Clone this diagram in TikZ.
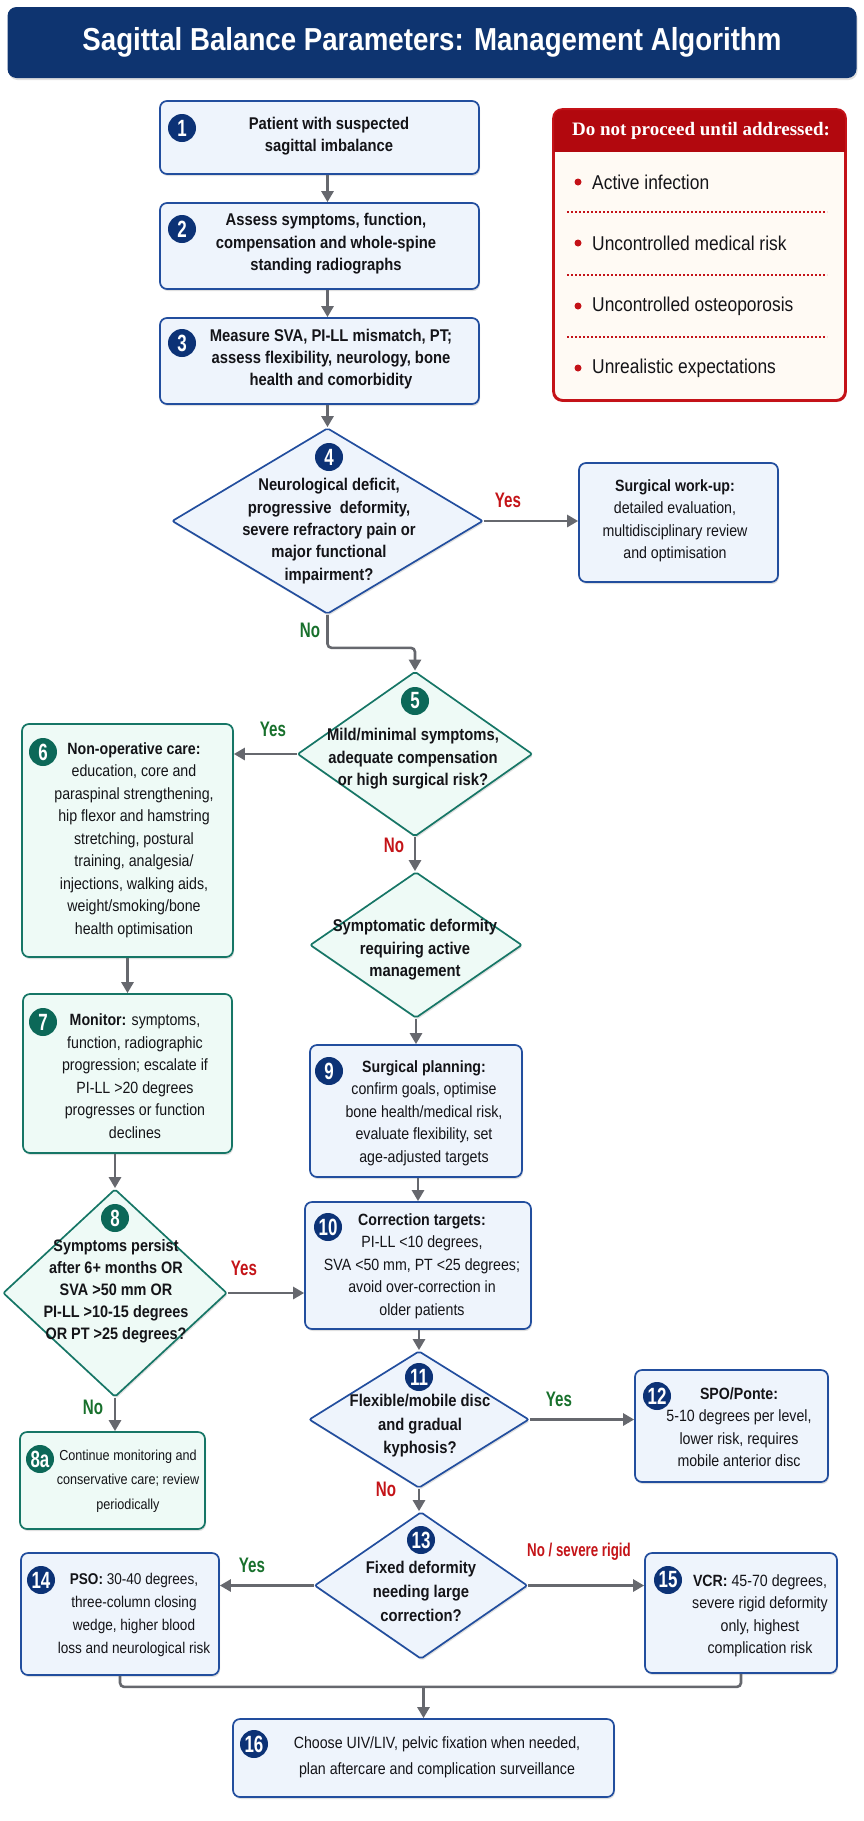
\documentclass[tikz,border=0pt]{standalone}
\usepackage{fontspec}
\setmainfont{Liberation Sans}[FakeStretch=0.87]
\newfontfamily\NarrowFont{Liberation Sans}[FakeStretch=0.72]
\newfontfamily\HeadSerif{Liberation Serif}
\usetikzlibrary{arrows.meta}
\usetikzlibrary{shapes.geometric}
\usetikzlibrary{shadows}

\definecolor{TitleNavy}{RGB}{14,52,112}
\definecolor{BadgeNavy}{RGB}{12,50,118}
\definecolor{BoxBlue}{RGB}{34,78,158}
\definecolor{FillBlue}{RGB}{238,244,252}
\definecolor{BoxGreen}{RGB}{22,118,102}
\definecolor{BadgeGreen}{RGB}{12,104,88}
\definecolor{FillGreen}{RGB}{238,250,246}
\definecolor{ArrowGray}{RGB}{102,104,110}
\definecolor{AlertRed}{RGB}{196,18,24}
\definecolor{HeadRed}{RGB}{178,8,14}
\definecolor{FillCream}{RGB}{255,250,244}
\definecolor{LabelRed}{RGB}{196,20,24}
\definecolor{LabelGreen}{RGB}{24,112,44}
\definecolor{Ink}{RGB}{20,20,24}

\newcommand{\BodySize}{\fontsize{16.3}{22.5}\selectfont}
\newcommand{\BoldSize}{\bfseries\fontsize{17}{22.4}\selectfont}
\newcommand{\SmallSize}{\fontsize{14.5}{24.7}\selectfont}
\newcommand{\BadgeSize}{\NarrowFont\bfseries\fontsize{23.5}{23.5}\selectfont}
\newcommand{\LabelSize}{\NarrowFont\bfseries\fontsize{21}{21}\selectfont}

\begin{document}
\begin{tikzpicture}[x=1pt, y=-1pt,
    SoftShadow/.style={drop shadow={shadow xshift=1pt, shadow yshift=-2pt, opacity=0.12, fill=black}},
    StepBox/.style={rounded corners=7pt, line width=1.7pt, inner sep=0pt, SoftShadow},
    BlueBox/.style={StepBox, draw=BoxBlue, fill=FillBlue},
    GreenBox/.style={StepBox, draw=BoxGreen, fill=FillGreen},
    BlueDia/.style={diamond, draw=BoxBlue, fill=FillBlue, line width=1.7pt, inner sep=0pt, rounded corners=2pt, SoftShadow},
    GreenDia/.style={diamond, draw=BoxGreen, fill=FillGreen, line width=1.7pt, inner sep=0pt, rounded corners=2pt, SoftShadow},
    BoxText/.style={align=center, inner sep=0pt, text=Ink, font=\BodySize},
    Badge/.style={circle, fill=BadgeNavy, text=white, minimum size=28pt, inner sep=0pt, font=\BadgeSize},
    GreenBadge/.style={Badge, fill=BadgeGreen},
    Flow/.style={draw=ArrowGray, line width=2.6pt, -{Triangle[length=11pt,width=12pt]}},
    Joiner/.style={draw=ArrowGray, line width=2.6pt, rounded corners=4pt},
    YesRed/.style={text=LabelRed, font=\LabelSize, inner sep=0pt},
    YesGreen/.style={text=LabelGreen, font=\LabelSize, inner sep=0pt},
    ]

\useasboundingbox (0,0) rectangle (864,1821);

% Title bar
\node [rounded corners=9pt, fill=TitleNavy, minimum width=849pt, minimum height=71pt, inner sep=0pt, SoftShadow,
    text=white, font=\bfseries\fontsize{31.8}{31.8}\selectfont] (title) at (432,42.5)
    {Sagittal Balance Parameters: Management Algorithm};

% Warning panel
\node [rounded corners=9pt, draw=AlertRed, fill=FillCream, line width=1.8pt, SoftShadow,
    minimum width=291pt, minimum height=290pt, inner sep=0pt] (RB) at (699.5,255) {};
\coordinate (RBhead) at (0,152);
\begin{scope}
    \clip [rounded corners=9pt] (RB.north west) rectangle (RB.south east);
    \fill [HeadRed] (RB.north west) rectangle (RB.east |- RBhead);
\end{scope}
\draw [AlertRed, line width=1.8pt, rounded corners=9pt] (RB.north west) rectangle (RB.south east);
\node [text=white, inner sep=0pt, font=\HeadSerif\bfseries\fontsize{19}{19}\selectfont] (RBtitle) at (701,131)
    {Do not proceed until addressed:};
\fill [AlertRed] (578,182) circle (3.5pt);
\fill [AlertRed] (578,243) circle (3.5pt);
\fill [AlertRed] (578,306) circle (3.5pt);
\fill [AlertRed] (578,368) circle (3.5pt);
\node [BoxText, anchor=west, font=\fontsize{20}{20}\selectfont] (RB1) at (592,182) {Active infection};
\node [BoxText, anchor=west, font=\fontsize{20}{20}\selectfont] (RB2) at (592,243) {Uncontrolled medical risk};
\node [BoxText, anchor=west, font=\fontsize{20}{20}\selectfont] (RB3) at (592,306) {Uncontrolled osteoporosis};
\node [BoxText, anchor=west, font=\fontsize{20}{20}\selectfont] (RB4) at (592,368) {Unrealistic expectations};
\draw [AlertRed, line width=1.3pt, dash pattern=on 1.6pt off 2.4pt] (567,212) -- (827,212);
\draw [AlertRed, line width=1.3pt, dash pattern=on 1.6pt off 2.4pt] (567,275) -- (827,275);
\draw [AlertRed, line width=1.3pt, dash pattern=on 1.6pt off 2.4pt] (567,337) -- (827,337);

% Shapes
\node [BlueBox, minimum width=319pt, minimum height=73pt] (B1) at (319.5,137.5) {};
\node [BlueBox, minimum width=319pt, minimum height=86pt] (B2) at (319.5,246) {};
\node [BlueBox, minimum width=319pt, minimum height=86pt] (B3) at (319.5,361) {};
\node [BlueDia, minimum width=311pt, minimum height=186pt] (D4) at (327.5,521) {};
\node [BlueBox, minimum width=199pt, minimum height=119pt] (W) at (678.5,522.5) {};
\node [GreenDia, minimum width=235pt, minimum height=165pt] (D5) at (415,754) {};
\node [GreenBox, minimum width=211pt, minimum height=233pt] (B6) at (127.5,840.5) {};
\node [GreenDia, minimum width=212pt, minimum height=146pt] (DS) at (416,945) {};
\node [GreenBox, minimum width=209pt, minimum height=159pt] (B7) at (127.5,1073.5) {};
\node [BlueBox, minimum width=212pt, minimum height=132pt] (B9) at (416,1111) {};
\node [BlueBox, minimum width=226pt, minimum height=127pt] (B10) at (418,1265.5) {};
\node [GreenDia, minimum width=224pt, minimum height=208pt] (D8) at (115,1293) {};
\node [GreenBox, minimum width=185pt, minimum height=97pt] (B8a) at (112.5,1480.5) {};
\node [BlueDia, minimum width=220pt, minimum height=137pt] (D11) at (419,1419.5) {};
\node [BlueBox, minimum width=193pt, minimum height=112pt] (B12) at (731.5,1426) {};
\node [BlueDia, minimum width=213pt, minimum height=147pt] (D13) at (421,1585.5) {};
\node [BlueBox, minimum width=198pt, minimum height=122pt] (B14) at (120,1614) {};
\node [BlueBox, minimum width=192pt, minimum height=120pt] (B15) at (741,1613) {};
\node [BlueBox, minimum width=381pt, minimum height=78pt] (B16) at (423.5,1758) {};

% Texts
\node [BoxText, font=\BoldSize] (T1) at (329,136) {Patient with suspected\\sagittal imbalance};
\node [BoxText, font=\BoldSize] (T2) at (326,244) {Assess symptoms, function,\\compensation and whole-spine\\standing radiographs};
\node [BoxText, font=\BoldSize] (T3) at (331,359) {Measure SVA, PI-LL mismatch, PT;\\assess flexibility, neurology, bone\\health and comorbidity};
\node [BoxText, font=\BoldSize] (T4) at (329,531) {Neurological deficit,\\progressive~ deformity,\\severe refractory pain or\\major functional\\impairment?};
\node [BoxText] (TW) at (675,521) {\textbf{Surgical work-up:}\\detailed evaluation,\\multidisciplinary review\\and optimisation};
\node [BoxText, font=\BoldSize] (T5) at (413,759) {Mild/minimal symptoms,\\adequate compensation\\or high surgical risk?};
\node [BoxText] (T6) at (134,840) {\textbf{Non-operative care:}\\education, core and\\paraspinal strengthening,\\hip flexor and hamstring\\stretching, postural\\training, analgesia/\\injections, walking aids,\\weight/smoking/bone\\health optimisation};
\node [BoxText, font=\BoldSize] (TS) at (415,950) {Symptomatic deformity\\requiring active\\management};
\node [BoxText] (T7) at (135,1076) {\textbf{Monitor:} symptoms,\\function, radiographic\\progression; escalate if\\PI-LL >20 degrees\\progresses or function\\declines};
\node [BoxText] (T9) at (424,1113) {\textbf{Surgical planning:}\\confirm goals, optimise\\bone health/medical risk,\\evaluate flexibility, set\\age-adjusted targets};
\node [BoxText] (T10) at (422,1266) {\textbf{Correction targets:}\\PI-LL <10 degrees,\\SVA <50 mm, PT <25 degrees;\\avoid over-correction in\\older patients};
\node [BoxText, font=\bfseries\fontsize{16.6}{21.9}\selectfont] (T8) at (116,1291) {Symptoms persist\\after 6+ months OR\\SVA >50 mm OR\\PI-LL >10-15 degrees\\OR PT >25 degrees?};
\node [BoxText, font=\SmallSize] (T8a) at (128,1481) {Continue monitoring and\\conservative care; review\\periodically};
\node [BoxText, font=\bfseries\fontsize{17}{23.5}\selectfont] (T11) at (420,1426) {Flexible/mobile disc\\and gradual\\kyphosis?};
\node [BoxText] (T12) at (739,1427) {\textbf{SPO/Ponte:}\\5-10 degrees per level,\\lower risk, requires\\mobile anterior disc};
\node [BoxText, font=\bfseries\fontsize{17}{24}\selectfont] (T13) at (421,1591) {Fixed deformity\\needing large\\correction?};
\node [BoxText, font=\fontsize{15.6}{23}\selectfont] (T14) at (134,1615) {\textbf{PSO:} 30-40 degrees,\\three-column closing\\wedge, higher blood\\loss and neurological risk};
\node [BoxText] (T15) at (760,1616) {\textbf{VCR:} 45-70 degrees,\\severe rigid deformity\\only, highest\\complication risk};
\node [BoxText, font=\fontsize{16.3}{26}\selectfont] (T16) at (437,1757) {Choose UIV/LIV, pelvic fixation when needed,\\plan aftercare and complication surveillance};

% Number badges
\node [Badge] (N1) at (182,128) {1};
\node [Badge] (N2) at (182,229) {2};
\node [Badge] (N3) at (182,343) {3};
\node [Badge] (N4) at (329,457) {4};
\node [GreenBadge] (N5) at (415,701) {5};
\node [GreenBadge] (N6) at (43,752) {6};
\node [GreenBadge] (N7) at (43,1022) {7};
\node [GreenBadge] (N8) at (115,1218) {8};
\node [GreenBadge] (N8a) at (40,1459) {8a};
\node [Badge] (N9) at (329,1071) {9};
\node [Badge] (N10) at (328,1227) {10};
\node [Badge] (N11) at (419,1377) {11};
\node [Badge] (N12) at (657,1396) {12};
\node [Badge] (N13) at (421,1540) {13};
\node [Badge] (N14) at (41,1580) {14};
\node [Badge] (N15) at (668,1580) {15};
\node [Badge] (N16) at (254,1744) {16};

% Connectors
\draw [Flow] (B1.south -| D4.north) -- (B2.north -| D4.north);
\draw [Flow] (B2.south -| D4.north) -- (B3.north -| D4.north);
\draw [Flow] (B3.south -| D4.north) -- (D4.north);
\draw [Flow] (D4.east) -- (D4.east -| W.west);
\draw [Flow, rounded corners=4pt] (D4.south) -- ++(0,33) -| (D5.north);
\draw [Flow] (D5.west) -- (D5.west -| B6.east);
\draw [Flow] (D5.south) -- (D5.south |- DS.north);
\draw [Flow] (B6.south) -- (B7.north);
\draw [Flow] (DS.south) -- (DS.south |- B9.north);
\draw [Flow] (B7.south -| D8.north) -- (D8.north);
\draw [Flow] (B9.south -| B10.north) -- (B10.north);
\draw [Flow] (D8.east) -- (D8.east -| B10.west);
\draw [Flow] (D8.south) -- (D8.south |- B8a.north);
\draw [Flow] (B10.south -| D11.north) -- (D11.north);
\draw [Flow] (D11.east) -- (D11.east -| B12.west);
\draw [Flow] (D11.south) -- (D11.south |- D13.north);
\draw [Flow] (D13.west) -- (D13.west -| B14.east);
\draw [Flow] (D13.east) -- (D13.east -| B15.west);
\draw [Joiner] (B14.south) -- ++(0,11) coordinate (J) -| (B15.south);
\draw [Flow] (J -| B16.north) -- (B16.north);

% Branch labels
\node [YesRed] (LY4) at (508,500) {Yes};
\node [YesGreen] (LN4) at (310,630) {No};
\node [YesGreen] (LY5) at (273,729) {Yes};
\node [YesRed] (LN5) at (394,845) {No};
\node [YesRed] (LY8) at (244,1268) {Yes};
\node [YesGreen] (LN8) at (93,1407) {No};
\node [YesGreen] (LY11) at (559,1399) {Yes};
\node [YesRed] (LN11) at (386,1489) {No};
\node [YesGreen] (LY13) at (252,1565) {Yes};
\node [YesRed, font=\NarrowFont\bfseries\fontsize{18.5}{18.5}\selectfont] (LN13) at (579,1552) {No / severe rigid};

\end{tikzpicture}
\end{document}
